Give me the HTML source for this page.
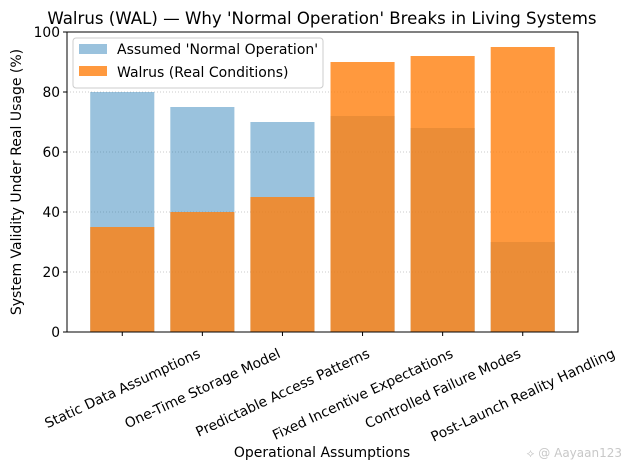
<!DOCTYPE html>
<html><head><meta charset="utf-8"><style>
body{margin:0;background:#fff}
svg{display:block;font-family:"DejaVu Sans","Liberation Sans",sans-serif}
</style></head><body>
<svg id="c" width="628" height="470" viewBox="0 0 628 470">
<rect width="628" height="470" fill="#fff"/>
<text x="322" y="24" text-anchor="middle" font-size="16.6" fill="#000">Walrus (WAL) — Why 'Normal Operation' Breaks in Living Systems</text>
<g id="grid"></g>
<g id="bars"></g>
<rect x="67" y="32" width="511" height="300" fill="none" stroke="#000" stroke-width="1"/>
<g id="axes"></g>
<text transform="translate(21,182) rotate(-90)" text-anchor="middle" font-size="14">System Validity Under Real Usage (%)</text>
<text x="322" y="457" text-anchor="middle" font-size="14">Operational Assumptions</text>
<g>
<rect x="73" y="38" width="250" height="50" rx="3" fill="#fff" fill-opacity="0.8" stroke="#ccc"/>
<rect x="79" y="44" width="28" height="10" fill="#1f77b4" fill-opacity="0.45"/>
<text x="117" y="54" font-size="14">Assumed 'Normal Operation'</text>
<rect x="79" y="66" width="28" height="10" fill="#ff7f0e" fill-opacity="0.8"/>
<text x="117" y="77" font-size="14">Walrus (Real Conditions)</text>
</g>
<text x="622" y="457" text-anchor="end" font-size="12" fill="#c8c8c8">⟡ @ Aayaan123</text>
</svg>
<script>
const categories=["Static Data Assumptions","One-Time Storage Model","Predictable Access Patterns","Fixed Incentive Expectations","Controlled Failure Modes","Post-Launch Reality Handling"];
const assumed=[80,75,70,72,68,30];
const walrus=[35,40,45,90,92,95];
const yTicks=[0,20,40,60,80,100];
const NS="http://www.w3.org/2000/svg";
const x0=67,x1=578,yTop=32,yBot=332;
const xmin=-0.69,xmax=5.69;
function X(i){return x0+(i-xmin)/(xmax-xmin)*(x1-x0);}
function Y(v){return yBot-v/100*(yBot-yTop);}
function mk(t,a,p){const e=document.createElementNS(NS,t);for(const k in a)e.setAttribute(k,a[k]);p.appendChild(e);return e;}
const grid=document.getElementById('grid'),bars=document.getElementById('bars'),axes=document.getElementById('axes');
yTicks.forEach(v=>{
 if(v>0&&v<100){const g=mk('line',{x1:x0,x2:x1,y1:Y(v),y2:Y(v),stroke:'#bbb','stroke-width':0.8,'stroke-dasharray':'1,2'},grid);
 
 }
 const t=mk('line',{x1:x0-4,x2:x0,y1:Y(v),y2:Y(v),stroke:'#000'},axes);
 
 
 const l=mk('text',{x:x0-7,y:Y(v)+5,'text-anchor':'end','font-size':13.8},axes);
 l.textContent=v;
 
 
});
const bw=0.8*(x1-x0)/(xmax-xmin);
categories.forEach((c,i)=>{
 const b=mk('rect',{x:X(i)-bw/2,y:Y(assumed[i]),width:bw,height:Y(0)-Y(assumed[i]),fill:'#1f77b4','fill-opacity':0.45},bars);
 
 
});
categories.forEach((c,i)=>{
 const b=mk('rect',{x:X(i)-bw/2,y:Y(walrus[i]),width:bw,height:Y(0)-Y(walrus[i]),fill:'#ff7f0e','fill-opacity':0.8},bars);
 
 
});
categories.forEach((c,i)=>{
 const t=mk('line',{x1:X(i),x2:X(i),y1:yBot,y2:yBot+4,stroke:'#000'},axes);
 
 
 const l=mk('text',{x:0,y:0,'text-anchor':'middle','font-size':13.8},axes);
 l.textContent=c;
 
 
 const bb=l.getBBox();
 const a=25*Math.PI/180;
 const hh=(bb.width*Math.sin(a)+bb.height*Math.cos(a))/2;
 const cy=345+hh;
 l.setAttribute('y',5);
 l.setAttribute('transform','translate('+X(i)+','+cy+') rotate(-25)');
});
</script>
</body></html>
